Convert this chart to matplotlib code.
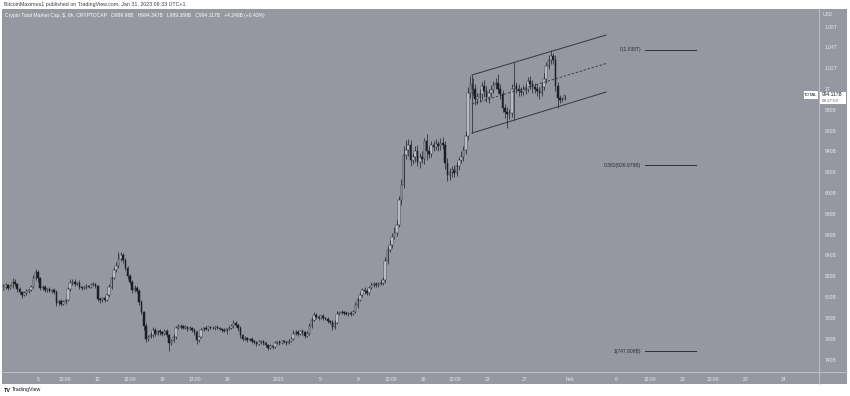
import numpy as np
import matplotlib.pyplot as plt
from matplotlib.patches import Rectangle
from matplotlib.lines import Line2D

# TOTAL crypto market cap, 6h candles, Dec 1 2022 -> Jan 31 2023 (billion USD)
# one row per day, four candles per row
closes = [
    808, 810, 812, 809,     # Dec 1
    811, 815, 813, 808,
    805, 802, 804, 806,
    807, 810, 818, 824,
    818, 809, 810, 807,     # Dec 5
    808, 806, 807, 805,
    794, 796, 793, 795,
    797, 808, 814, 815,
    813, 814, 810, 809,
    810, 811, 810, 812,     # Dec 10
    813, 811, 798, 797,
    799, 797, 802, 810,
    818, 826, 830, 837,
    840, 836, 828, 820,
    815, 807, 809, 806,     # Dec 15
    795, 786, 772, 760,
    762, 764, 768, 765,
    767, 766, 765, 767,
    764, 756, 758, 762,
    770, 771, 772, 770,     # Dec 20
    771, 769, 770, 768,
    766, 759, 762, 768,
    770, 769, 771, 770,
    770, 771, 770, 769,
    768, 767, 769, 770,     # Dec 25
    772, 775, 773, 770,
    764, 760, 761, 759,
    760, 758, 757, 755,
    757, 758, 756, 754,
    751, 753, 752, 756,     # Dec 30
    757, 756, 758, 757,
    756, 758, 760, 765,     # Jan 1
    766, 765, 767, 766,
    763, 765, 772, 778,
    783, 781, 780, 782,
    780, 779, 777, 776,     # Jan 5
    771, 775, 784, 785,
    786, 785, 784, 785,
    784, 786, 792, 797,
    802, 807, 806, 804,
    809, 812, 813, 812,     # Jan 10
    813, 814, 816, 835,
    845, 850, 858, 862,
    869, 893, 908, 937,
    941, 946, 932, 935,
    940, 930, 935, 933,     # Jan 15
    950, 940, 938, 946,
    944, 947, 945, 948,
    946, 929, 917, 920,
    922, 919, 926, 932,
    935, 941, 955, 996,     # Jan 20
    1005, 1000, 990, 992,
    995, 1003, 998, 992,
    996, 999, 1004, 1006,
    1000, 995, 982, 978,
    976, 977, 1000, 1003,   # Jan 25
    1000, 998, 997, 999,
    1000, 1008, 1005, 1002,
    1000, 998, 996, 1002,
    1010, 1022, 1028, 1032,
    1028, 1003, 991, 989.87,  # Jan 30
    989.98, 994.117,          # Jan 31
]

wick_up = [
    2, 3, 2, 1,  2, 3, 2, 1,  2, 1, 2, 2,  1, 2, 3, 3,  2, 1, 2, 2,
    1, 2, 1, 2,  2, 1, 2, 2,  1, 2, 3, 2,  2, 1, 2, 1,  1, 2, 1, 2,
    2, 1, 1, 2,  1, 2, 2, 3,  2, 3, 4, 6,  3, 2, 2, 2,  2, 1, 3, 2,
    2, 2, 1, 3,  2, 2, 3, 2,  1, 2, 1, 2,  2, 1, 2, 3,  2, 3, 2, 1,
    2, 1, 2, 1,  2, 2, 1, 2,  1, 2, 1, 1,  1, 1, 2, 1,  1, 2, 1, 2,
    2, 3, 2, 1,  2, 1, 2, 1,  1, 2, 1, 1,  2, 1, 1, 2,  1, 2, 1, 2,
    1, 2, 1, 1,  1, 2, 2, 3,  2, 2, 1, 2,  1, 2, 3, 3,  3, 2, 2, 1,
    2, 1, 2, 1,  2, 3, 3, 2,  2, 1, 2, 1,  2, 2, 3, 3,  3, 2, 3, 2,
    2, 3, 2, 2,  2, 3, 3, 4,  4, 5, 4, 5,  5, 4, 6, 8,  10, 6, 5, 4,
    5, 6, 4, 5,  3, 7, 5, 4,  4, 5, 3, 5,  6, 4, 5, 4,  4, 5, 4, 3,
    5, 4, 5, 6,  8, 6, 5, 4,  5, 4, 6, 5,  4, 5, 4, 5,  8, 5, 4, 4,
    5, 4, 5, 6,  4, 5, 4, 5,  6, 4, 5, 4,  4, 5, 4, 5,  5, 4, 5, 6,
    3, 5, 4, 3,  2, 0.23,
]

wick_dn = [
    2, 1, 2, 2,  1, 2, 2, 3,  2, 3, 1, 2,  2, 1, 1, 2,  3, 2, 2, 2,
    2, 1, 2, 2,  3, 2, 2, 1,  2, 1, 2, 2,  2, 1, 2, 2,  1, 2, 1, 1,
    1, 2, 2, 3,  2, 2, 1, 2,  2, 1, 2, 2,  2, 3, 2, 3,  2, 3, 2, 2,
    3, 2, 4, 3,  2, 1, 2, 2,  1, 2, 2, 1,  2, 8.2, 2, 1,  2, 1, 2, 1,
    1, 2, 1, 2,  2, 4, 2, 1,  1, 1, 2, 1,  1, 2, 1, 1,  2, 1, 2, 1,
    1, 2, 2, 3,  3, 2, 1, 2,  1, 2, 2, 2,  1, 2, 2, 2,  2, 1, 2, 1,
    1, 2, 1, 1,  2, 1, 1, 1,  1, 2, 1, 2,  2, 1, 1, 2,  1, 2, 2, 1,
    2, 1, 2, 2,  3, 2, 1, 1,  1, 2, 1, 2,  2, 1, 1, 2,  1, 2, 3, 2,
    2, 1, 2, 2,  2, 1, 2, 2,  3, 2, 3, 2,  3, 2, 4, 3,  4, 5, 6, 4,
    5, 4, 6, 4,  5, 8, 4, 3,  4, 3, 5, 4,  4, 6, 5, 4,  5, 4, 3, 4,
    3, 4, 3, 4,  5, 6, 5, 4,  4, 5, 6, 4,  5, 4, 3, 4,  4, 5, 4, 6,
    13, 5, 4, 3,  4, 5, 4, 3,  4, 3, 5, 6,  4, 5, 6, 3,  3, 4, 3, 4,
    4, 5, 9, 3,  2, 0.71,
]

price_ticks = [740, 760, 780, 800, 820, 840, 860, 880, 900, 920, 940, 960, 980, 1000, 1020, 1040, 1060]
price_labels = ['740B', '760B', '780B', '800B', '820B', '840B', '860B', '880B', '900B', '920B',
                '940B', '960B', '980B', '1T', '1.02T', '1.04T', '1.06T']

# x axis in days since Dec 1 2022
time_ticks = [4.0, 6.9, 10.5, 14.0, 17.5, 21.1, 24.6, 30.1, 34.7, 38.8, 42.4,
              45.9, 49.3, 52.9, 56.9, 61.8, 66.9, 70.5, 74.0, 77.4, 80.9, 85.0]
time_labels = ['5', '13:00', '12', '13:00', '19', '13:00', '26', '2023', '5', '9', '13:00',
               '16', '13:00', '23', '27', 'Feb', '6', '13:00', '13', '13:00', '20', '24']

# parallel channel
chan_x = [51.17, 65.74]
chan_low = [957.7, 997.1]
chan_up = [1013.5, 1051.9]
chan_mark_x = 55.7

fib_levels = [1038.0, 926.979, 747.809]
fib_labels = ['0(1.038T)', '0.382(926.979B)', '1(747.809B)']
fib_x = [70.0, 75.5]

assert len(closes) == len(wick_up) == len(wick_dn)

W, H = 850, 396
BG = '#9598a1'
TXT = '#e4e6eb'
DARK = '#1c1e24'

def fx(x):
    return x / W

def fy(y):
    return 1 - y / H

plt.rcParams['font.family'] = ['Liberation Sans', 'DejaVu Sans']
fig = plt.figure(figsize=(8.5, 3.96), dpi=100, facecolor='white')

# grey panel behind everything
fig.patches.append(Rectangle((fx(2), fy(384)), fx(845), 375 / H, transform=fig.transFigure,
                             facecolor=BG, edgecolor='none', zorder=-5))

ax = fig.add_axes([fx(3), fy(372), fx(816), 362 / H])
ax.set_facecolor('none')
ax.set_xlim(0.2, 88.9)
ax.set_ylim(728, 1076)
for s in ax.spines.values():
    s.set_visible(False)

# candles
n = len(closes)
t = np.arange(n) * 0.25
c = np.array(closes, dtype=float)
o = np.concatenate([[807.0], c[:-1]])
top = np.maximum(o, c)
bot = np.minimum(o, c)
hi = top + np.array(wick_up)
lo = bot - np.array(wick_dn)
up = c >= o

ax.vlines(t, lo, hi, color=DARK, lw=0.5, zorder=2)
ax.bar(t[up], np.maximum(top[up] - bot[up], 0.6), bottom=bot[up], width=0.17,
       color='#eceef2', edgecolor=DARK, linewidth=0.35, zorder=3)
ax.bar(t[~up], np.maximum(top[~up] - bot[~up], 0.6), bottom=bot[~up], width=0.17,
       color=DARK, edgecolor=DARK, linewidth=0.35, zorder=3)

# channel
ln = '#33363f'
ax.plot(chan_x, chan_up, color=ln, lw=0.7, zorder=4)
ax.plot(chan_x, chan_low, color=ln, lw=0.7, zorder=4)
ax.plot(chan_x, [(a + b) / 2 for a, b in zip(chan_up, chan_low)], color=ln, lw=0.6,
        ls=(0, (3, 2)), zorder=4)
ax.plot([chan_x[0], chan_x[0]], [chan_low[0], chan_up[0]], color=ln, lw=0.6, zorder=4)
k = (chan_mark_x - chan_x[0]) / (chan_x[1] - chan_x[0])
ax.plot([chan_mark_x, chan_mark_x],
        [chan_low[0] + k * (chan_low[1] - chan_low[0]), chan_up[0] + k * (chan_up[1] - chan_up[0])],
        color=ln, lw=0.6, zorder=4)

# fib levels
for lvl, lab in zip(fib_levels, fib_labels):
    ax.plot(fib_x, [lvl, lvl], color='#2c2f37', lw=0.7, zorder=4)
    ax.text(fib_x[0] - 0.4, lvl, lab, ha='right', va='center', fontsize=3.6, color='#2c2f37')

# axes ticks
ax.yaxis.tick_right()
ax.set_yticks(price_ticks)
ax.set_yticklabels(price_labels)
ax.set_xticks(time_ticks)
ax.set_xticklabels(time_labels)
ax.tick_params(axis='y', length=0, pad=4, labelsize=3.6, labelcolor=TXT)
ax.tick_params(axis='x', length=0, pad=3.5, labelsize=3.6, labelcolor=TXT)
for lab in ax.get_yticklabels():
    lab.set_horizontalalignment('left')

# separators of the price and time scales
sep = '#c3c6cd'
fig.add_artist(Line2D([fx(819), fx(819)], [fy(9), fy(384)], color=sep, lw=0.6))
fig.add_artist(Line2D([fx(2), fx(847)], [fy(372), fy(372)], color=sep, lw=0.6))
fig.text(fx(823), fy(15), 'USD', fontsize=3.6, color=TXT, va='center')

# last price labels
fig.patches.append(Rectangle((fx(820), fy(104)), fx(26), 12.5 / H, transform=fig.transFigure,
                             facecolor='white', edgecolor='none', zorder=5))
fig.text(fx(822), fy(95), '994.117B', fontsize=3.5, color='#131722', va='center', zorder=6)
fig.text(fx(822), fy(100.8), '04:27:00', fontsize=3.2, color='#555a66', va='center', zorder=6)
fig.patches.append(Rectangle((fx(804), fy(99)), fx(14), 8 / H, transform=fig.transFigure,
                             facecolor='white', edgecolor='none', zorder=5))
fig.text(fx(811), fy(95), 'TOTAL', fontsize=3.2, color='#131722', va='center', ha='center', zorder=6)

# header texts
fig.text(fx(4), fy(4.5), 'BitcoinMaximus1 published on TradingView.com, Jan 31, 2023 08:33 UTC+1',
         fontsize=3.8, color='#3a3d45', va='center')
fig.text(fx(5), fy(15), 'Crypto Total Market Cap, $, 6h, CRYPTOCAP   O989.98B   H994.347B   '
         'L989.269B   C994.117B   +4.248B (+0.43%)', fontsize=3.6, color='white', va='center')
fig.text(fx(4), fy(390), 'TV', fontsize=4, color='#131722', va='center', fontweight='bold')
fig.text(fx(12), fy(390), 'TradingView', fontsize=3.8, color='#131722', va='center')

fig.savefig('out.png', dpi=100, facecolor='white')
